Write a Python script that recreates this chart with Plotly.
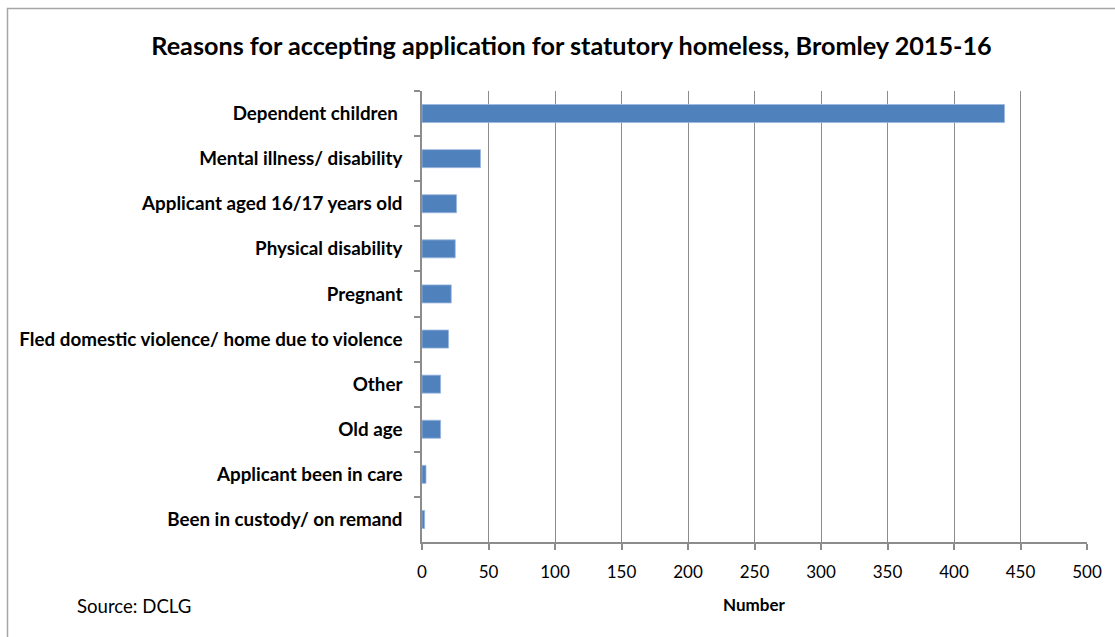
import plotly.graph_objects as go

categories = [
    "Dependent children ",
    "Mental illness/ disability",
    "Applicant aged 16/17 years old",
    "Physical disability",
    "Pregnant",
    "Fled domestic violence/ home due to violence",
    "Other",
    "Old age",
    "Applicant been in care",
    "Been in custody/ on remand",
]
values = [438, 44, 26, 25, 22, 20, 14, 14, 3, 2]
x_ticks = [0, 50, 100, 150, 200, 250, 300, 350, 400, 450, 500]

title_text = "Reasons for accepting application for statutory homeless, Bromley 2015-16"
FONT = "Lato, 'Open Sans', sans-serif"

W, H = 1115, 637
L, R, T, B = 422, 28, 91, 95
pw, ph = W - L - R, H - T - B

def px_x(px):
    return (px - L) / pw

def px_y(py):
    return (H - B - py) / ph

fig = go.Figure(go.Bar(
    x=values, y=["<b>" + c + "</b>" for c in categories], orientation="h",
    marker=dict(color="#4F81BD", line=dict(color="#9DB9DE", width=0.8)),
    hoverinfo="x+y",
))

grey = "#8C8C8C"
fig.update_layout(
    width=W, height=H,
    margin=dict(l=L, r=R, t=T, b=B),
    paper_bgcolor="white", plot_bgcolor="white",
    showlegend=False, bargap=0.6,
    font=dict(family=FONT, color="black"),
    title=dict(text="<b>" + title_text + "</b>", x=571.5 / W, xanchor="center",
               y=1 - 46 / H, yanchor="middle", xref="container", yref="container",
               font=dict(size=25.2, family=FONT, color="black")),
    xaxis=dict(range=[0, 500], tickvals=x_ticks, ticktext=[str(v) for v in x_ticks],
               showgrid=True, gridcolor=grey, gridwidth=1,
               showline=True, linecolor=grey, linewidth=1.5,
               ticks="outside", ticklen=6, tickcolor=grey, tickwidth=1.5,
               tickfont=dict(size=17, family=FONT, color="black"),
               ticklabelstandoff=8, zeroline=False, fixedrange=True),
    yaxis=dict(autorange="reversed", showgrid=False,
               showline=True, linecolor=grey, linewidth=1.5,
               ticks="outside", ticklen=6, tickcolor=grey, tickwidth=1.5,
               tickson="boundaries",
               tickfont=dict(size=18.8, family=FONT, color="black"),
               ticklabelstandoff=14, fixedrange=True),
)

# "Number" axis title and source note
fig.add_annotation(text="<b>Number</b>", x=px_x(754), y=px_y(604), xref="paper", yref="paper",
                   showarrow=False, xanchor="center", yanchor="middle",
                   font=dict(size=17, family=FONT, color="black"))
fig.add_annotation(text="Source: DCLG", x=px_x(75), y=px_y(606), xref="paper", yref="paper",
                   showarrow=False, xanchor="left", yanchor="middle",
                   font=dict(size=18.6, family=FONT, color="black"))

# outer frame (extends beyond right/bottom of view)
fig.add_shape(type="rect", xref="paper", yref="paper",
              x0=px_x(7.5), x1=px_x(W + 20), y0=px_y(8.5), y1=px_y(H + 20),
              line=dict(color="#A6A6A6", width=1.5), fillcolor="rgba(0,0,0,0)", layer="below")

fig.write_html("out.html", config={"displayModeBar": False},
               post_script="document.body.style.margin='0';document.body.style.overflow='hidden';")
